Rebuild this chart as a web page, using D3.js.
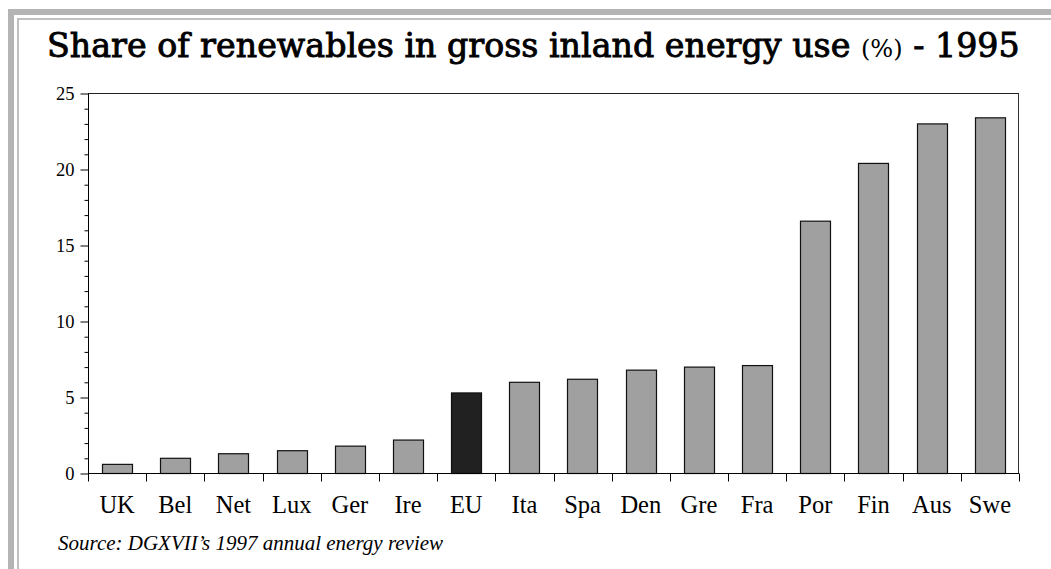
<!DOCTYPE html>
<html><head><meta charset="utf-8">
<script src="https://cdn.jsdelivr.net/npm/d3@7"></script>
<style>html,body{margin:0;padding:0;background:#fff;}svg{display:block;}</style>
</head><body>
<svg id="chart" width="1051" height="569"></svg>
<script>
const categories = ["UK","Bel","Net","Lux","Ger","Ire","EU","Ita","Spa","Den","Gre","Fra","Por","Fin","Aus","Swe"];
const values = [0.6,1.0,1.3,1.5,1.8,2.2,5.3,6.0,6.2,6.8,7.0,7.1,16.6,20.4,23.0,23.4];
const highlight = ["EU"];
const yTicks = [0,5,10,15,20,25];
const yMinorTicks = d3.range(0,26,1);
const titleMain = "Share of renewables in gross inland energy use ";
const titleUnit = "(%)";
const titleEnd = " - 1995";
const sourceText = "Source: DGXVII\u2019s 1997 annual energy review";

const serif = "'Liberation Serif','Times New Roman',serif";
const svg = d3.select("#chart");
// frame
svg.append("rect").attr("x",8).attr("y",9).attr("width",1051-8).attr("height",6).attr("fill","#b4b4b4");
svg.append("rect").attr("x",8).attr("y",9).attr("width",6).attr("height",569-9).attr("fill","#b4b4b4");
svg.append("rect").attr("x",17).attr("y",18).attr("width",1051-17).attr("height",2).attr("fill","#c0c0c0");
svg.append("rect").attr("x",17).attr("y",18).attr("width",2).attr("height",569-18).attr("fill","#c0c0c0");

const L=88, R=1019, T=93.5, B=473.5;
const p = 0.48;
const x = d3.scaleBand().domain(categories).range([L,R]).paddingInner(p).paddingOuter(p/2);
const y = d3.scaleLinear().domain([0,25]).range([B,T]);

// plot box top and right
svg.append("line").attr("x1",L).attr("x2",R).attr("y1",T).attr("y2",T).attr("stroke","#222").attr("stroke-width",1);
svg.append("line").attr("x1",R-0.5).attr("x2",R-0.5).attr("y1",T).attr("y2",B).attr("stroke","#333").attr("stroke-width",1);

// bars
svg.append("g").selectAll("rect").data(categories).join("rect")
  .attr("x",d=>Math.round(x(d))+0.5)
  .attr("y",(d,i)=>y(values[i]))
  .attr("width",Math.round(x.bandwidth()))
  .attr("height",(d,i)=>B-y(values[i]))
  .attr("fill",d=>highlight.includes(d)?"#212121":"#a0a0a0")
  .attr("stroke","#111").attr("stroke-width",1.2);

// y axis
const yAxis = d3.axisLeft(y).tickValues(yTicks).tickSize(8).tickPadding(6).tickFormat(d3.format("d"));
const gy = svg.append("g").attr("transform",`translate(${L+0.5},0)`).call(yAxis)
  .attr("font-family",serif).attr("font-size",18.5);
gy.select(".domain").attr("stroke","#000").attr("d",`M0,${T}V${B}`);
gy.selectAll(".tick line").attr("stroke","#000");
gy.selectAll(".tick text").attr("fill","#000");
const gym = svg.append("g").attr("transform",`translate(${L+0.5},0)`)
  .call(d3.axisLeft(y).tickValues(yMinorTicks.filter(v=>!yTicks.includes(v))).tickSize(4).tickFormat(""));
gym.select(".domain").remove();
gym.selectAll(".tick line").attr("stroke","#000");

// x axis
const xAxis = d3.axisBottom(x).tickSize(0).tickPadding(22);
const gx = svg.append("g").attr("transform",`translate(0,${B})`).call(xAxis)
  .attr("font-family",serif).attr("font-size",24.5);
gx.select(".domain").attr("stroke","#000").attr("d",`M${L},0H${R}`);
gx.selectAll(".tick text").attr("fill","#000");
// boundary ticks
const bounds = categories.map(c=>x(c)-x.step()*p/2).concat([R-0.5]);
svg.append("g").selectAll("line").data(bounds).join("line")
  .attr("x1",d=>Math.round(d)+0.5).attr("x2",d=>Math.round(d)+0.5)
  .attr("y1",B).attr("y2",B+8).attr("stroke","#000");

// title
const title = svg.append("text").attr("x",47).attr("y",57)
  .attr("font-family","'DejaVu Serif',serif").attr("font-size",29).attr("fill","#000");
title.append("tspan").attr("stroke","#000").attr("stroke-width",0.9).text(titleMain);
title.append("tspan").attr("font-size",21).text(titleUnit);
title.append("tspan").attr("stroke","#000").attr("stroke-width",0.9).text(titleEnd);
const tw = title.node().getComputedTextLength();
const s = 973/tw;
title.attr("font-size",29*s);
title.select("tspan:nth-child(2)").attr("font-size",21*s);

// source
svg.append("text").attr("x",58).attr("y",550)
  .attr("font-family",serif).attr("font-style","italic")
  .attr("font-size",21).attr("fill","#000").text(sourceText);
</script>
</body></html>
